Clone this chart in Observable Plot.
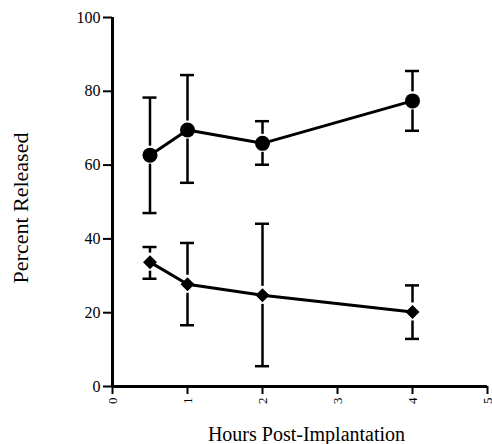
<!DOCTYPE html>
<html>
<head>
<meta charset="utf-8">
<script src="https://cdn.jsdelivr.net/npm/d3@7"></script>
<script src="https://cdn.jsdelivr.net/npm/@observablehq/plot@0.6"></script>
<style>
  html, body { margin: 0; padding: 0; background: #fff; }
  #chart svg, #chart svg text { font-family: "Liberation Serif", "Times New Roman", "DejaVu Serif", serif !important; }
</style>
</head>
<body>
<div id="chart"></div>
<script>
const hours = [0.5, 1, 2, 4];
const circleMean = [62.7, 69.5, 65.9, 77.4];
const circleHi   = [78.3, 84.4, 71.9, 85.5];
const circleLo   = [47.0, 55.2, 60.1, 69.3];
const diamondMean = [33.7, 27.7, 24.7, 20.2];
const diamondHi   = [37.8, 38.9, 44.1, 27.4];
const diamondLo   = [29.2, 16.6, 5.5, 12.9];
const xTicks = [0, 1, 2, 3, 4, 5];
const yTicks = [0, 20, 40, 60, 80, 100];
const xTitle = "Hours Post-Implantation";
const yTitle = "Percent Released";

const circles = hours.map((h, i) => ({x: h, mean: circleMean[i], hi: circleHi[i], lo: circleLo[i]}));
const diamonds = hours.map((h, i) => ({x: h, mean: diamondMean[i], hi: diamondHi[i], lo: diamondLo[i]}));

const diamondSymbol = {
  draw(ctx, size) {
    const h = Math.sqrt(size / Math.PI);
    ctx.moveTo(0, -h); ctx.lineTo(h, 0); ctx.lineTo(0, h); ctx.lineTo(-h, 0); ctx.closePath();
  }
};

function errorMarks(data) {
  return [
    Plot.ruleX(data, {x: "x", y1: "hi", y2: "mean", insetBottom: 9, strokeWidth: 2.5, stroke: "black"}),
    Plot.ruleX(data, {x: "x", y1: "mean", y2: "lo", insetTop: 9, strokeWidth: 2.5, stroke: "black"}),
    Plot.ruleY(data, {y: "hi", x1: "x", x2: "x", insetLeft: -7, insetRight: -7, strokeWidth: 2.5, stroke: "black"}),
    Plot.ruleY(data, {y: "lo", x1: "x", x2: "x", insetLeft: -7, insetRight: -7, strokeWidth: 2.5, stroke: "black"})
  ];
}

const chart = Plot.plot({
  width: 492,
  height: 444,
  marginLeft: 112,
  marginRight: 5,
  marginTop: 17,
  marginBottom: 58,
  style: {fontFamily: "'Liberation Serif', serif", fontSize: "15px", color: "black", background: "white"},
  x: {domain: [0, 5]},
  y: {domain: [0, 100]},
  marks: [
    Plot.axisY({ticks: yTicks, tickFormat: "d", tickSize: 9, tickPadding: 3, strokeWidth: 2, fontSize: 16, label: null}),
    Plot.axisX({ticks: xTicks, tickFormat: "d", tickSize: 8, tickPadding: 3, strokeWidth: 2, tickRotate: -90, fontSize: 13, label: null}),
    Plot.text([yTitle], {frameAnchor: "left", textAnchor: "middle", lineAnchor: "middle", dx: -92, dy: 6, rotate: -90, fontSize: 22, fill: "black"}),
    Plot.text([xTitle], {frameAnchor: "bottom", textAnchor: "middle", lineAnchor: "middle", dx: 6.5, dy: 48.5, fontSize: 20, fill: "black"}),
    Plot.ruleY([0], {strokeWidth: 3, stroke: "black"}),
    Plot.ruleX([0], {strokeWidth: 3, stroke: "black"}),
    ...errorMarks(circles),
    ...errorMarks(diamonds),
    Plot.line(circles, {x: "x", y: "mean", strokeWidth: 3, stroke: "black"}),
    Plot.line(diamonds, {x: "x", y: "mean", strokeWidth: 3, stroke: "black"}),
    Plot.dot(circles, {x: "x", y: "mean", r: 7.5, fill: "black", stroke: "none"}),
    Plot.dot(diamonds, {x: "x", y: "mean", r: 7, symbol: diamondSymbol, fill: "black", stroke: "none"})
  ]
});
document.getElementById("chart").appendChild(chart);
</script>
</body>
</html>
